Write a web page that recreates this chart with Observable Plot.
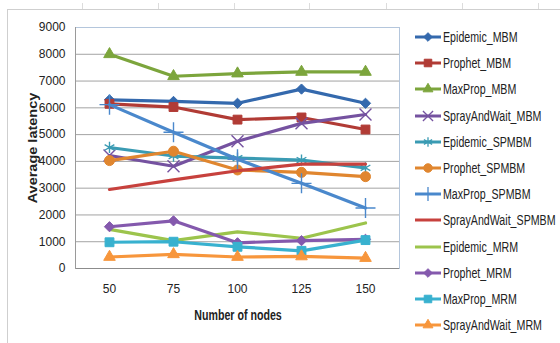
<!DOCTYPE html>
<html>
<head>
<meta charset="utf-8">
<script src="https://cdn.jsdelivr.net/npm/d3@7"></script>
<script src="https://cdn.jsdelivr.net/npm/@observablehq/plot@0.6"></script>
<style>
  html, body { margin: 0; padding: 0; background: #fff; }
  #wrap { position: relative; width: 560px; height: 343px; overflow: hidden; font-family: "Liberation Sans", Arial, sans-serif; color: #222; }
  #outer { position: absolute; left: 7px; top: 9px; width: 560px; height: 340px; border-top: 1px solid #cfcfcf; border-left: 1px solid #cfcfcf; }
  .colmark { position: absolute; top: 3px; width: 1px; height: 6px; background: #dcdcdc; }
  #legend { position: absolute; left: 415px; top: 24px; }
  .item { display: flex; align-items: center; height: 26.2px; font-size: 14px; white-space: nowrap; }
  .item svg { margin-right: 2px; flex: none; }
  .item span { display: inline-block; transform: scaleX(0.76); transform-origin: left center; }
  #ytitle { position: absolute; left: 33px; top: 148px; transform: translate(-50%, -50%) rotate(-90deg) scaleY(0.85); font-weight: bold; font-size: 14.5px; white-space: nowrap; }
  #xtitle { position: absolute; left: 238px; top: 315px; transform: translate(-50%, -50%) scaleX(0.76); font-weight: bold; font-size: 14px; white-space: nowrap; }
  #chart { position: absolute; left: 0; top: 0; }
</style>
</head>
<body>
<div id="wrap">
  <div id="outer"></div>
  <div id="chart"></div>
  <div id="legend"></div>
  <div id="ytitle">Average latency</div>
  <div id="xtitle">Number of nodes</div>
</div>
<script>
const nodes = [50, 75, 100, 125, 150];
const yTicks = [0, 1000, 2000, 3000, 4000, 5000, 6000, 7000, 8000, 9000];

const seriesNames = [
  "Epidemic_MBM", "Prophet_MBM", "MaxProp_MBM", "SprayAndWait_MBM",
  "Epidemic_SPMBM", "Prophet_SPMBM", "MaxProp_SPMBM", "SprayAndWait_SPMBM",
  "Epidemic_MRM", "Prophet_MRM", "MaxProp_MRM", "SprayAndWait_MRM"
];

const epidemicMBM      = [6300, 6240, 6170, 6700, 6170];
const prophetMBM       = [6150, 6030, 5560, 5640, 5190];
const maxPropMBM       = [8000, 7180, 7280, 7340, 7340];
const sprayMBM         = [4220, 3820, 4750, 5420, 5750];
const epidemicSPMBM    = [4520, 4200, 4120, 4050, 3760];
const prophetSPMBM     = [4030, 4380, 3680, 3590, 3430];
const maxPropSPMBM     = [6120, 5090, 4080, 3180, 2260];
const spraySPMBM       = [2950, 3310, 3650, 3900, 3900];
const epidemicMRM      = [1460, 1040, 1370, 1130, 1700];
const prophetMRM       = [1560, 1780, 960, 1040, 1090];
const maxPropMRM       = [980, 1000, 810, 660, 1060];
const sprayMRM         = [430, 530, 430, 450, 390];

const seriesValues = [
  epidemicMBM, prophetMBM, maxPropMBM, sprayMBM,
  epidemicSPMBM, prophetSPMBM, maxPropSPMBM, spraySPMBM,
  epidemicMRM, prophetMRM, maxPropMRM, sprayMRM
];

const colors = [
  "#3469ad", "#b13b35", "#7ca53c", "#7552a0",
  "#3a9bb3", "#e0862f", "#4a88cc", "#c7413d",
  "#9cc44c", "#8459ad", "#38b1cf", "#f7963c"
];

const symbols = [
  "diamond2", "square", "triangle", "times",
  "asterisk", "circle", "plus", null,
  null, "diamond2", "square", "triangle"
];
const strokeSymbols = new Set(["times", "asterisk", "plus"]);
const symbolR = { diamond2: 4.6, square: 5, triangle: 4.3, times: 5.5, asterisk: 5.3, circle: 5, plus: 6.5 };

const data = seriesNames.flatMap((name, i) =>
  nodes.map((n, j) => ({ series: name, nodes: n, latency: seriesValues[i][j] }))
);

const marks = [
  Plot.frame({ stroke: "#b4c6dc" }),
  Plot.ruleY(yTicks.slice(1, -1), { stroke: "#a3a3a3", strokeWidth: 1 }),
  Plot.ruleY([0], { stroke: "#8c8c8c", strokeWidth: 1 }),
  Plot.frame({ anchor: "left", stroke: "#9a9a9a" }),
  Plot.axisY({ ticks: yTicks, tickSize: 0, tickPadding: 10, fontSize: 12, label: null, tickFormat: d => String(d) }),
  Plot.axisX({ tickSize: 0, tickPadding: 16, fontSize: 12, label: null })
];

seriesNames.forEach((name, i) => {
  const sd = data.filter(d => d.series === name);
  marks.push(Plot.line(sd, {
    x: "nodes", y: "latency", stroke: colors[i], strokeWidth: 3.2,
    strokeLinejoin: "round", strokeLinecap: "round"
  }));
  const sym = symbols[i];
  if (sym) {
    const isStroke = strokeSymbols.has(sym);
    marks.push(Plot.dot(sd, {
      x: "nodes", y: "latency", symbol: sym, r: symbolR[sym],
      fill: isStroke ? "none" : colors[i],
      stroke: colors[i],
      strokeWidth: isStroke ? 1.4 : 1
    }));
  }
});

const chart = Plot.plot({
  width: 560,
  height: 343,
  marginLeft: 75,
  marginRight: 161,
  marginTop: 27,
  marginBottom: 75,
  style: { fontFamily: "'Liberation Sans', Arial, sans-serif", fontSize: "12px", color: "#222", background: "transparent", overflow: "visible" },
  x: { type: "point", domain: nodes, padding: 0.5, axis: null },
  y: { domain: [0, 9000], axis: null },
  marks
});
document.getElementById("chart").appendChild(chart);

// Legend
const d3Sym = {
  diamond2: d3.symbolDiamond2, square: d3.symbolSquare, triangle: d3.symbolTriangle,
  times: d3.symbolTimes, asterisk: d3.symbolAsterisk, circle: d3.symbolCircle, plus: d3.symbolPlus
};
const legend = d3.select("#legend");
seriesNames.forEach((name, i) => {
  const item = legend.append("div").attr("class", "item");
  const svg = item.append("svg").attr("width", 26).attr("height", 14);
  svg.append("line").attr("x1", 0).attr("x2", 26).attr("y1", 7).attr("y2", 7)
    .attr("stroke", colors[i]).attr("stroke-width", 3);
  const sym = symbols[i];
  if (sym) {
    const r = symbolR[sym] * 0.85;
    const isStroke = strokeSymbols.has(sym);
    svg.append("path")
      .attr("transform", "translate(13,7)")
      .attr("d", d3.symbol(d3Sym[sym], r * r * Math.PI)())
      .attr("fill", isStroke ? "none" : colors[i])
      .attr("stroke", colors[i])
      .attr("stroke-width", isStroke ? 1.3 : 1);
  }
  item.append("span").text(name);
});

// faint spreadsheet column marks above the outer frame
[82, 158, 234, 309, 386, 462, 538].forEach(x => {
  d3.select("#wrap").append("div").attr("class", "colmark").style("left", x + "px");
});
</script>
</body>
</html>
